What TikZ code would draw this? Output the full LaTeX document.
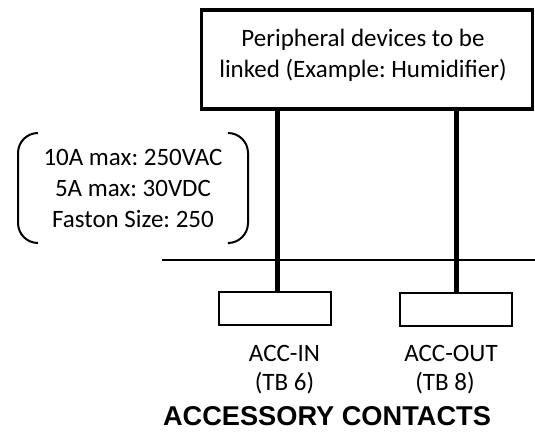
\documentclass[tikz,border=0pt]{standalone}
\usepackage{fontspec}
\setmainfont{Carlito}
\newfontfamily\titlefont{Liberation Sans}
\frenchspacing

\begin{document}
\begin{tikzpicture}[
  x=1pt, y=-1pt,
  every node/.style={font=\fontsize{25}{31}\selectfont, outer sep=0pt},
  devbox/.style={draw, line width=3.3pt, minimum width=331.4pt, minimum height=99pt, inner sep=0pt},
  pinbox/.style={draw, line width=2pt, minimum width=112pt, minimum height=33.3pt, inner sep=0pt},
  lead/.style={line width=5pt},
  bracket/.style={line width=2pt, rounded corners=20pt}
]
\useasboundingbox (0,0) rectangle (535,437);

% device on top:
\node [devbox] (dev) at (367,59.5) {};
\node [align=center] (devtxt) at (363,55) {Peripheral devices to be\\linked (Example: Humidifier)};

% ratings, in brackets
\node [align=center, minimum width=230pt, minimum height=110pt] (spec) at (133,188)
  {10A max: 250VAC\\5A max: 30VDC\\Faston Size: 250};
\draw [bracket] ([xshift=20pt]spec.north west) -- (spec.north west) -- (spec.south west) -- ([xshift=20pt]spec.south west);
\draw [bracket] ([xshift=-18pt]spec.north east) -- (spec.north east) -- (spec.south east) -- ([xshift=-18pt]spec.south east);

% terminal blocks
\node [pinbox] (inbox) at (275,308.5) {};
\node [pinbox] (outbox) at (456,309.3) {};

\coordinate (railW) at (162,260);
\coordinate (railE) at (535,260);
\draw [line width=2pt] (railW) -- (railE);

\coordinate (inpin) at ([xshift=2.5pt]inbox.north);
\coordinate (outpin) at (outbox.north);
\draw [lead] (dev.south -| inpin) -- (inpin);
\draw [lead] (dev.south -| outpin) -- (outpin);

\node [anchor=base] (inname) at (284.5,361) {ACC-IN};
\node [anchor=base] (intb) at (284.5,390) {(TB 6)};
\node [anchor=base] (outname) at (451,361) {ACC-OUT};
\node [anchor=base] (outtb) at (445,390) {(TB 8)};

\node [anchor=base, font=\titlefont\bfseries\fontsize{27.2}{32}\selectfont] (title) at (327,425) {ACCESSORY CONTACTS};

\end{tikzpicture}
\end{document}
